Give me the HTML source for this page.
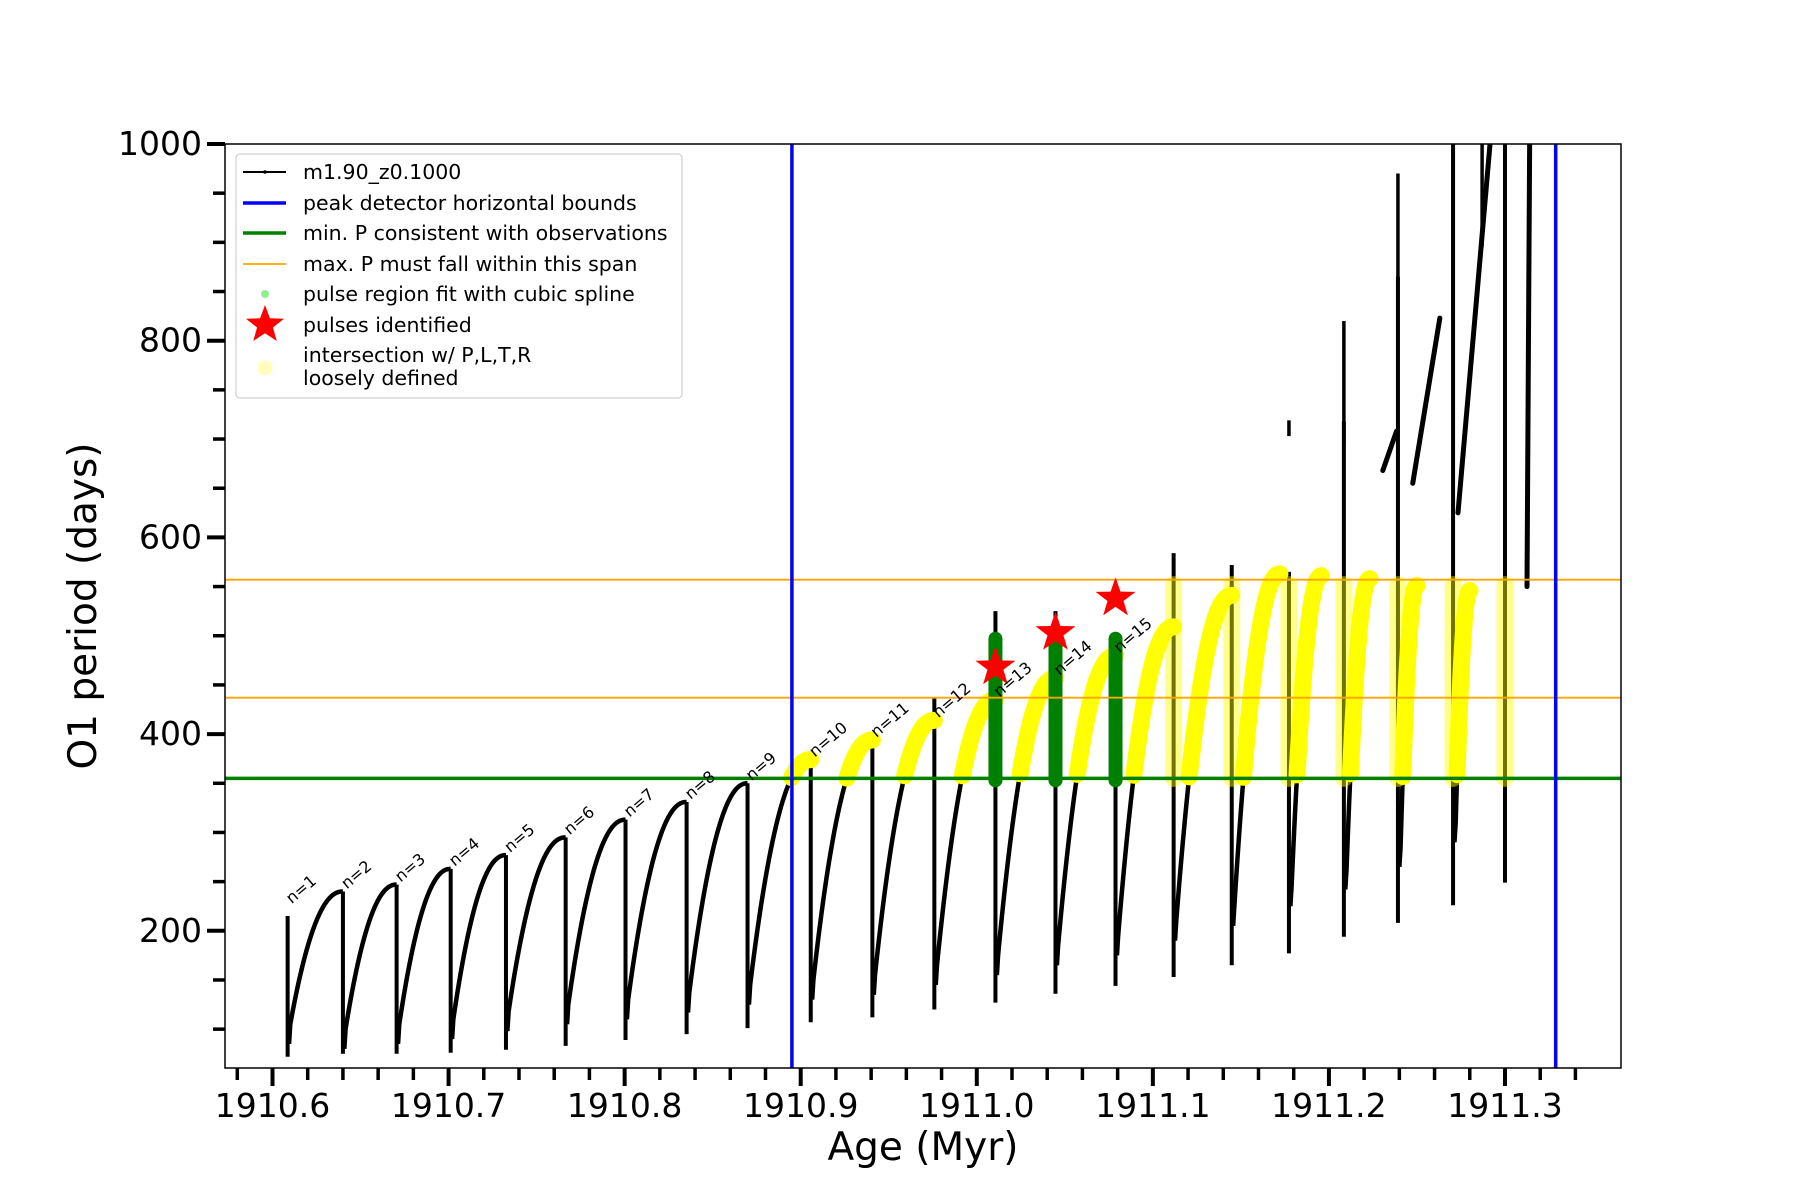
<!DOCTYPE html>
<html><head><meta charset="utf-8"><style>
body{margin:0;background:#fff;}
svg{display:block;font-family:"DejaVu Sans","Liberation Sans",sans-serif;}
</style></head><body>
<svg id="chart" width="1800" height="1200" xmlns="http://www.w3.org/2000/svg">
<rect width="1800" height="1200" fill="#fff"/>
<g id="plot"></g>
<g id="axes"></g>
</svg>
<script>
// ---- data ----
const spikeAges=[1910.6086,1910.6400,1910.6705,1910.7012,1910.7326,1910.7665,1910.8005,1910.8352,1910.8698,1910.9057,1910.9407,1910.9759,1911.0106,1911.0447,1911.0788,1911.1118,1911.1448,1911.1773,1911.2085,1911.2392,1911.2705,1911.3000];
const spikeLows=[72,75,75,76,79,83,89,95,101,107,112,120,127,136,144,153,165,177,194,208,226,249];
const spikeHighs=[215,240,247,263,277,295,313,331,350,374,394,437,525,525,500,584,572,565,718,865,1000,1000];
const curveStarts=[105,100,105,110,118,125,130,137,145,150,155,165,175,185,195,210,225,245,262,285,310];
const peakVals=[240,247,263,277,295,313,331,350,374,394,414,435,457,480,509,541,563,561,558,551,546];
const peakAges=[1910.6400,1910.6705,1910.7012,1910.7326,1910.7665,1910.8005,1910.8352,1910.8698,1910.9057,1910.9407,1910.9759,1911.0106,1911.0447,1911.0788,1911.1118,1911.1448,1911.1722,1911.1957,1911.2233,1911.2500,1911.2801];
const greenAges=[1911.0106,1911.0447,1911.0788];
const greenTops=[497,500,497];
const starVals=[468,503,538];
const labelVals=[225,240,247,263,277,295,313,331,350,374,394,414,435,457,480];
const extraSegAges=[1911.1773,1911.2085,1911.2392,1911.2705,1911.2870];
const extraSegLo=[703,693,584,823,896];
const extraSegHi=[719,820,970,1000,1000];
const extraCurveA0=[1911.2306,1911.2476,1911.2733,1911.3125];
const extraCurveA1=[1911.2384,1911.2630,1911.2915,1911.3140];
const extraCurveV0=[668,655,625,550];
const extraCurveV1=[708,823,1000,1000];
const greenLevel=355, orangeLo=437, orangeHi=557;
const blueBounds=[1910.895,1911.3288];
const xTicks=[1910.6,1910.7,1910.8,1910.9,1911.0,1911.1,1911.2,1911.3];
const yTicks=[200,400,600,800,1000];

// ---- axes ----
const L=225,R=1621,T=144,B=1068;
const x=a=>272.5+(a-1910.6)*1760.7;
const y=v=>144+(1000-v)*0.9835;
const NS='http://www.w3.org/2000/svg';
const plot=document.getElementById('plot'), axes=document.getElementById('axes');
function mk(tag,attrs,parent){const e=document.createElementNS(NS,tag);for(const k in attrs)e.setAttribute(k,attrs[k]);parent.appendChild(e);return e;}
const clip=mk('clipPath',{id:'cp'},document.getElementById('chart'));
mk('rect',{x:L,y:T,width:R-L,height:B-T},clip);
plot.setAttribute('clip-path','url(#cp)');

function curvePts(i,n){const pts=[];const a0=spikeAges[i]+0.0015,a1=peakAges[i];for(let k=0;k<=n;k++){const f=k/n;const v=curveStarts[i]+(peakVals[i]-curveStarts[i])*(1-Math.pow(1-f,2.2));pts.push([a0+(a1-a0)*f,v]);}return pts;}
// black spikes and curves
for(let i=0;i<spikeAges.length;i++){
  const e=mk('line',{x1:x(spikeAges[i]),x2:x(spikeAges[i]),y1:y(spikeLows[i]),y2:y(spikeHighs[i]),stroke:'#000','stroke-width':4},plot);
  
  
}
for(let i=0;i<peakVals.length;i++){
  const pts=curvePts(i,60);
  pts.unshift([spikeAges[i]+0.0008,curveStarts[i]-20]);
  const e=mk('polyline',{points:pts.map(p=>x(p[0])+','+y(p[1])).join(' '),fill:'none',stroke:'#000','stroke-width':4.5},plot);
  
  
}
for(let i=0;i<extraSegAges.length;i++){
  const e=mk('line',{x1:x(extraSegAges[i]),x2:x(extraSegAges[i]),y1:y(extraSegLo[i]),y2:y(extraSegHi[i]),stroke:'#000','stroke-width':3.5},plot);
  
  
}
for(let i=0;i<extraCurveA0.length;i++){
  const e=mk('line',{x1:x(extraCurveA0[i]),x2:x(extraCurveA1[i]),y1:y(extraCurveV0[i]),y2:y(extraCurveV1[i]),stroke:'#000','stroke-width':5,'stroke-linecap':'round'},plot);
  
  
}
// translucent yellow bands on late spikes
for(let i=15;i<spikeAges.length;i++){
  const e=mk('line',{x1:x(spikeAges[i]),x2:x(spikeAges[i]),y1:y(greenLevel),y2:y(orangeHi-5),stroke:'#ffff00','stroke-width':17,'stroke-opacity':0.45,'stroke-linecap':'round'},plot);
  
  
}
// yellow overlays on curves above green level (drawn over black)
for(let i=0;i<peakVals.length;i++){
  const pts=curvePts(i,60).filter(p=>p[1]>=greenLevel&&p[0]>=blueBounds[0]-0.002);
  if(pts.length>1){
    const e=mk('polyline',{points:pts.map(p=>x(p[0])+','+y(p[1])).join(' '),fill:'none',stroke:'#ffff00','stroke-width':17,'stroke-linecap':'round','stroke-linejoin':'round'},plot);
    
    
  }
}
// green spline bars
for(let i=0;i<greenAges.length;i++){
  const e=mk('line',{x1:x(greenAges[i]),x2:x(greenAges[i]),y1:y(greenLevel-2),y2:y(greenTops[i]),stroke:'#008000','stroke-width':14,'stroke-linecap':'round'},plot);
  
  
}
// horizontal lines
[[greenLevel,'#008000',3.5,'min-period-line'],[orangeLo,'#ffa500',1.8,'max-period-low-line'],[orangeHi,'#ffa500',1.8,'max-period-high-line']].forEach(d=>{
  const e=mk('line',{x1:L,x2:R,y1:y(d[0]),y2:y(d[0]),stroke:d[1],'stroke-width':d[2]},plot);
  
  
});
blueBounds.forEach(a=>{
  const e=mk('line',{x1:x(a),x2:x(a),y1:T,y2:B,stroke:'#0000ff','stroke-width':3.5},plot);
  
  
});
function starPath(cx,cy,r){let d='';for(let k=0;k<10;k++){const rr=k%2?r*0.4:r;const t=-Math.PI/2+k*Math.PI/5;d+=(k?'L':'M')+(cx+rr*Math.cos(t)).toFixed(1)+','+(cy+rr*Math.sin(t)).toFixed(1);}return d+'Z';}
for(let i=0;i<greenAges.length;i++){
  const e=mk('path',{d:starPath(x(greenAges[i]),y(starVals[i]),21),fill:'#ff0000'},plot);
  
  
}
for(let i=0;i<labelVals.length;i++){
  const px=x(spikeAges[i])+4, py=y(labelVals[i])-2;
  const e=mk('text',{x:px,y:py,'font-size':16,transform:`rotate(-40 ${px} ${py})`,fill:'#000'},plot);
  e.textContent='n='+(i+1);
  
  
}
// frame
mk('rect',{x:L,y:T,width:R-L,height:B-T,fill:'none',stroke:'#000','stroke-width':1.5},axes);
for(let k=0;k<=38;k++){
  const a=1910.58+k*0.02; const px=x(a); if(px<L||px>R+1)continue;
  const major=Math.abs((a*10)-Math.round(a*10))<1e-6;
  mk('line',{x1:px,x2:px,y1:B,y2:B+(major?18:12),stroke:'#000','stroke-width':major?4:3.5},axes);
}
xTicks.forEach(a=>{
  const e=mk('text',{x:x(a),y:1117,'font-size':33,'text-anchor':'middle'},axes);
  e.textContent=a.toFixed(1);
  
  
});
for(let v=100;v<=1000;v+=50){
  const major=v%200===0;
  mk('line',{x1:L-(major?18:12),x2:L,y1:y(v),y2:y(v),stroke:'#000','stroke-width':major?4:3.5},axes);
}
yTicks.forEach(v=>{
  const e=mk('text',{x:202,y:y(v)+11,'font-size':33,'text-anchor':'end'},axes);
  e.textContent=v;
  
  
});
</script>
<div style="position:absolute;left:0;top:0;width:1800px;height:1200px;pointer-events:none;">
<svg width="1800" height="1200" style="position:absolute;left:0;top:0">
<text x="923" y="1160" font-size="39" text-anchor="middle" font-family="DejaVu Sans, Liberation Sans, sans-serif">Age (Myr)</text>
<text x="0" y="0" font-size="39" text-anchor="middle" transform="translate(96 606) rotate(-90)" font-family="DejaVu Sans, Liberation Sans, sans-serif">O1 period (days)</text>
<g font-family="DejaVu Sans, Liberation Sans, sans-serif" font-size="20.5">
<rect x="236" y="154" width="446" height="244" rx="4" fill="#fff" fill-opacity="0.85" stroke="#d0d0d0" stroke-width="1.2"/>
<line x1="243" y1="172" x2="286" y2="172" stroke="#000" stroke-width="2"/><circle cx="265" cy="172" r="1.8"/>
<text x="303" y="179">m1.90_z0.1000</text>
<line x1="243" y1="203" x2="286" y2="203" stroke="#0000ff" stroke-width="3.5"/>
<text x="303" y="210">peak detector horizontal bounds</text>
<line x1="243" y1="233" x2="286" y2="233" stroke="#008000" stroke-width="3.5"/>
<text x="303" y="240">min. P consistent with observations</text>
<line x1="243" y1="264" x2="286" y2="264" stroke="#ffa500" stroke-width="1.8"/>
<text x="303" y="271">max. P must fall within this span</text>
<circle cx="265" cy="294" r="4" fill="#90ee90"/>
<text x="303" y="301">pulse region fit with cubic spline</text>
<path d="M265,305 L269.9,318.3 L284,318.8 L272.9,327.5 L276.8,341 L265,333.2 L253.2,341 L257.1,327.5 L246,318.8 L260.1,318.3 Z" fill="#ff0000"/>
<text x="303" y="332">pulses identified</text>
<circle cx="265" cy="368" r="7.5" fill="#ffffaa" fill-opacity="0.8"/>
<text x="303" y="362">intersection w/ P,L,T,R</text>
<text x="303" y="385">loosely defined</text>
</g>
</svg>
</div>
</body></html>
